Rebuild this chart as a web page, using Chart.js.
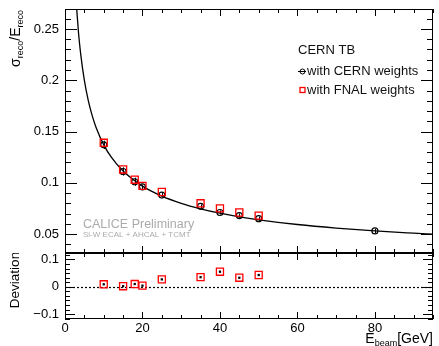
<!DOCTYPE html>
<html>
<head>
<meta charset="utf-8">
<script src="https://cdn.jsdelivr.net/npm/chart.js@4"></script>
<style>
  body { margin: 0; background: #fff; }
  #wrap { position: relative; width: 439px; height: 346px; }
  canvas { position: absolute; left: 0; }
  #mainChart { top: 0; }
  #devChart { top: 253px; }
</style>
</head>
<body>
<div id="wrap">
  <canvas id="mainChart" width="439" height="254"></canvas>
  <canvas id="devChart" width="439" height="93"></canvas>
</div>
<script>
// beam energies [GeV]
const energies = [10, 15, 18, 20, 25, 35, 40, 45, 50, 80];
const cernRes = [0.137, 0.111, 0.101, 0.096, 0.088, 0.077, 0.071, 0.068, 0.065, 0.053];
const cernErr = [0.004, 0.004, 0.004, 0.002, 0.002, 0.002, 0.002, 0.002, 0.002, 0.002];
const fnalEnergies = [10, 15, 18, 20, 25, 35, 40, 45, 50];
const fnalRes = [0.139, 0.113, 0.103, 0.097, 0.091, 0.080, 0.075, 0.071, 0.068];
const deviation = [0.009, 0.002, 0.010, 0.004, 0.027, 0.035, 0.055, 0.033, 0.043];

// fit curve
const fitE = [2.95, 3.5, 4, 5, 6, 7, 8, 10, 12, 15, 20, 25, 30, 35, 40, 45, 50, 60, 70, 80, 90, 95];
const fitRes = [0.2730, 0.2459, 0.2272, 0.1998, 0.1803, 0.1657, 0.1542, 0.1370, 0.1247, 0.1114, 0.0967,
    0.0870, 0.0800, 0.0746, 0.0703, 0.0668, 0.0639, 0.0593, 0.0558, 0.0530, 0.0508, 0.0498];

const xTicks = [0, 20, 40, 60, 80];
const resTicks = [0.05, 0.1, 0.15, 0.2, 0.25];
const devTicks = [-0.1, 0, 0.1];

const FONT = 'Liberation Sans, Arial, Helvetica, sans-serif';
const pts = (xs, ys) => xs.map((x, i) => ({ x: x, y: ys[i] }));
const noPad = s => { s.paddingTop = 0; s.paddingBottom = 0; s.paddingLeft = 0; s.paddingRight = 0; };

// ROOT-like frame with ticks on all four sides
function drawFrame(chart, o) {
    const { ctx, chartArea: a, scales } = chart;
    const xs = scales.x, ys = scales.y;
    ctx.save();
    ctx.strokeStyle = '#000';
    ctx.lineWidth = 1;
    ctx.beginPath();
    for (let k = 0; k * 5 <= xs.max + 1e-9; k++) {
        const px = Math.round(xs.getPixelForValue(k * 5)) + 0.5;
        const len = k % 4 === 0 ? o.xMajor : o.xMinor;
        ctx.moveTo(px, a.bottom); ctx.lineTo(px, a.bottom - len);
        ctx.moveTo(px, a.top); ctx.lineTo(px, a.top + len);
    }
    const k0 = Math.ceil(ys.min / o.yStep - 1e-6), k1 = Math.floor(ys.max / o.yStep + 1e-6);
    for (let k = k0; k <= k1; k++) {
        const py = Math.round(ys.getPixelForValue(k * o.yStep)) + 0.5;
        const len = k % o.yEvery === 0 ? o.yMajor : o.yMinor;
        ctx.moveTo(a.left, py); ctx.lineTo(a.left + len, py);
        ctx.moveTo(a.right, py); ctx.lineTo(a.right - len, py);
    }
    ctx.stroke();
    ctx.strokeRect(Math.round(a.left) + 0.5, Math.round(a.top) + 0.5,
        Math.round(a.right - a.left) - 1, Math.round(a.bottom - a.top) - 1);
    ctx.restore();
}

const mainPlugin = {
    id: 'mainDeco',
    beforeDatasetsDraw(chart) {
        const { ctx, scales } = chart;
        ctx.save();
        ctx.strokeStyle = '#000';
        ctx.lineWidth = 1;
        ctx.beginPath();
        energies.forEach((e, i) => {
            const px = Math.round(scales.x.getPixelForValue(e)) + 0.5;
            ctx.moveTo(px, scales.y.getPixelForValue(cernRes[i] - cernErr[i]));
            ctx.lineTo(px, scales.y.getPixelForValue(cernRes[i] + cernErr[i]));
        });
        ctx.stroke();
        ctx.restore();
    },
    afterDraw(chart) {
        const ctx = chart.ctx;
        drawFrame(chart, { xMajor: 7, xMinor: 4, yStep: 0.01, yEvery: 5, yMajor: 12, yMinor: 6 });
        ctx.save();
        // y title
        ctx.translate(20, 10);
        ctx.rotate(-Math.PI / 2);
        ctx.fillStyle = '#000';
        ctx.textBaseline = 'alphabetic';
        const parts = [['σ', 14, 0], ['reco', 9, 3], ['/E', 14, 0], ['reco', 9, 3]];
        let w = 0;
        parts.forEach(p => { ctx.font = p[1] + 'px ' + FONT; w += ctx.measureText(p[0]).width; });
        let cx = -w;
        parts.forEach(p => {
            ctx.font = p[1] + 'px ' + FONT;
            ctx.fillText(p[0], cx, p[2]);
            cx += ctx.measureText(p[0]).width;
        });
        ctx.restore();

        ctx.save();
        // legend
        ctx.fillStyle = '#111';
        ctx.font = '13px ' + FONT;
        ctx.textBaseline = 'middle';
        ctx.fillText('CERN TB', 298, 50);
        ctx.fillText('with CERN weights', 307, 71);
        ctx.fillText('with FNAL weights', 307, 90);
        ctx.strokeStyle = '#000';
        ctx.lineWidth = 1;
        ctx.beginPath();
        ctx.moveTo(298, 71.5); ctx.lineTo(306, 71.5);
        ctx.stroke();
        ctx.beginPath();
        ctx.arc(302.5, 71.5, 2.5, 0, Math.PI * 2);
        ctx.stroke();
        ctx.strokeStyle = '#f00';
        ctx.lineWidth = 1.3;
        ctx.strokeRect(300, 87.5, 5, 5);
        // preliminary label
        ctx.fillStyle = '#ababab';
        ctx.textBaseline = 'alphabetic';
        ctx.font = '12.5px ' + FONT;
        ctx.fillText('CALICE Preliminary', 83, 228);
        ctx.font = '8px ' + FONT;
        ctx.fillText('Si-W ECAL + AHCAL + TCMT', 83, 237);
        ctx.restore();
    }
};

const devPlugin = {
    id: 'devDeco',
    beforeDatasetsDraw(chart) {
        const { ctx, chartArea: a, scales } = chart;
        const py = Math.round(scales.y.getPixelForValue(0)) + 0.5;
        ctx.save();
        ctx.strokeStyle = '#000';
        ctx.lineWidth = 1.2;
        ctx.setLineDash([2, 2]);
        ctx.beginPath();
        ctx.moveTo(a.left, py); ctx.lineTo(a.right, py);
        ctx.stroke();
        ctx.restore();
    },
    afterDraw(chart) {
        const ctx = chart.ctx;
        drawFrame(chart, { xMajor: 7, xMinor: 4, yStep: 0.1 / 6, yEvery: 6, yMajor: 10, yMinor: 5 });
        ctx.save();
        ctx.fillStyle = '#000';
        ctx.font = '13.5px ' + FONT;
        ctx.textAlign = 'center';
        ctx.textBaseline = 'middle';
        ctx.translate(15, 27);
        ctx.rotate(-Math.PI / 2);
        ctx.fillText('Deviation', 0, 0);
        ctx.restore();

        // x title, right aligned
        ctx.save();
        ctx.fillStyle = '#000';
        ctx.textBaseline = 'alphabetic';
        const parts = [['E', 14, 0], ['beam', 9, 3], ['[GeV]', 14, 0]];
        let w = 0;
        parts.forEach(p => { ctx.font = p[1] + 'px ' + FONT; w += ctx.measureText(p[0]).width; });
        let cx = 433 - w;
        parts.forEach(p => {
            ctx.font = p[1] + 'px ' + FONT;
            ctx.fillText(p[0], cx, 90 + p[2]);
            cx += ctx.measureText(p[0]).width;
        });
        ctx.restore();
    }
};

const tickFont = { family: FONT, size: 13 };

new Chart(document.getElementById('mainChart'), {
    type: 'scatter',
    data: {
        datasets: [{
            label: 'with FNAL weights',
            data: pts(fnalEnergies, fnalRes),
            pointStyle: 'rect',
            pointRadius: 5,
            pointBorderColor: '#f00',
            pointBackgroundColor: 'rgba(0,0,0,0)',
            pointBorderWidth: 1.3
        }, {
            label: 'with CERN weights',
            data: pts(energies, cernRes),
            pointStyle: 'circle',
            pointRadius: 3,
            pointBorderColor: '#000',
            pointBackgroundColor: 'rgba(0,0,0,0)',
            pointBorderWidth: 1.2
        }, {
            type: 'line',
            label: 'fit',
            data: pts(fitE, fitRes),
            borderColor: '#000',
            borderWidth: 1.3,
            pointRadius: 0,
            cubicInterpolationMode: 'monotone',
            fill: false
        }]
    },
    options: {
        responsive: false,
        animation: false,
        layout: { autoPadding: false, padding: { left: 0, top: 9, right: 6, bottom: 1 } },
        plugins: { legend: { display: false }, tooltip: { enabled: false } },
        scales: {
            x: { type: 'linear', min: 0, max: 95, display: false },
            y: {
                min: 0.0315, max: 0.2695,
                grid: { display: false, drawTicks: false },
                border: { display: false },
                afterFit: s => { s.width = 65; noPad(s); },
                afterBuildTicks: s => { s.ticks = resTicks.map(v => ({ value: v })); },
                ticks: {
                    padding: 6, color: '#000', font: tickFont,
                    callback: v => String(+v.toFixed(2))
                }
            }
        }
    },
    plugins: [mainPlugin]
});

new Chart(document.getElementById('devChart'), {
    type: 'scatter',
    data: {
        datasets: [{
            label: 'dot',
            data: pts(fnalEnergies, deviation),
            pointStyle: 'rect',
            pointRadius: 1.6,
            pointBorderColor: '#000',
            pointBackgroundColor: '#000',
            pointBorderWidth: 0
        }, {
            label: 'deviation',
            data: pts(fnalEnergies, deviation),
            pointStyle: 'rect',
            pointRadius: 5,
            pointBorderColor: '#f00',
            pointBackgroundColor: 'rgba(0,0,0,0)',
            pointBorderWidth: 1.3
        }]
    },
    options: {
        responsive: false,
        animation: false,
        layout: { autoPadding: false, padding: { left: 0, top: 0, right: 6, bottom: 0 } },
        plugins: { legend: { display: false }, tooltip: { enabled: false } },
        scales: {
            x: {
                type: 'linear', min: 0, max: 95,
                grid: { display: false, drawTicks: false },
                border: { display: false },
                afterFit: s => { s.height = 27; noPad(s); },
                afterBuildTicks: s => { s.ticks = xTicks.map(v => ({ value: v })); },
                ticks: { padding: 2, color: '#000', font: tickFont, maxRotation: 0 }
            },
            y: {
                min: -0.118, max: 0.1235,
                grid: { display: false, drawTicks: false },
                border: { display: false },
                afterFit: s => { s.width = 65; noPad(s); },
                afterBuildTicks: s => { s.ticks = devTicks.map(v => ({ value: v })); },
                ticks: {
                    padding: 6, color: '#000', font: tickFont,
                    callback: v => v < 0 ? '\u2212' + String(+(-v).toFixed(2)) : String(+v.toFixed(2))
                }
            }
        }
    },
    plugins: [devPlugin]
});
</script>
</body>
</html>
